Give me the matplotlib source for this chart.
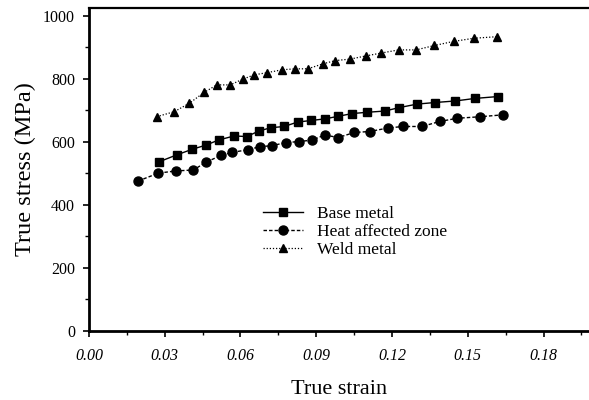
import numpy as np
import matplotlib.pyplot as plt
from matplotlib.ticker import MultipleLocator

plt.rcParams['font.family'] = ['Liberation Serif', 'DejaVu Serif']

# strain / stress readings for each zone
base_strain = [0.0278, 0.0348, 0.0410, 0.0464, 0.0513, 0.0575, 0.0625, 0.0674, 0.0720, 0.0773,
               0.0826, 0.0879, 0.0933, 0.0985, 0.1042, 0.1101, 0.1171, 0.1229, 0.1299, 0.1369,
               0.1451, 0.1528, 0.1619]
base_stress = [537, 559, 577, 590, 606, 619, 617, 635, 645, 649,
               663, 668, 673, 681, 690, 694, 698, 709, 720, 725,
               730, 738, 744]

haz_strain = [0.0195, 0.0275, 0.0345, 0.0414, 0.0464, 0.0523, 0.0568, 0.0628, 0.0678, 0.0724,
              0.0780, 0.0830, 0.0885, 0.0933, 0.0987, 0.1051, 0.1111, 0.1183, 0.1242, 0.1319,
              0.1389, 0.1458, 0.1550, 0.1639]
haz_stress = [476, 501, 508, 511, 536, 557, 567, 575, 585, 588,
              598, 601, 606, 622, 614, 630, 633, 644, 649, 649,
              665, 675, 680, 686]

weld_strain = [0.0268, 0.0338, 0.0398, 0.0456, 0.0506, 0.0559, 0.0609, 0.0655, 0.0707, 0.0765,
               0.0817, 0.0867, 0.0927, 0.0975, 0.1035, 0.1097, 0.1157, 0.1226, 0.1295, 0.1368,
               0.1444, 0.1524, 0.1617]
weld_stress = [680, 696, 723, 757, 781, 781, 799, 813, 820, 829,
               832, 832, 848, 858, 863, 873, 882, 892, 892, 906,
               919, 929, 934]

fig = plt.figure(figsize=(5.89, 4.0), dpi=100)
ax = fig.add_axes([0.151, 0.1725, 0.849, 0.8075])

ax.plot(base_strain, base_stress, color='black', lw=1.0, ls='-',
        marker='s', ms=6, label='Base metal')
ax.plot(haz_strain, haz_stress, color='black', lw=1.0, ls=(0, (2.5, 1.5)),
        marker='o', ms=6.5, label='Heat affected zone')
ax.plot(weld_strain, weld_stress, color='black', lw=0.9, ls=(0, (1, 1.5)),
        marker='^', ms=5.5, label='Weld metal')

ax.set_xlim(0, 0.198)
ax.set_ylim(0, 1025)
ax.xaxis.set_major_locator(MultipleLocator(0.03))
ax.xaxis.set_minor_locator(MultipleLocator(0.015))
ax.yaxis.set_major_locator(MultipleLocator(200))
ax.yaxis.set_minor_locator(MultipleLocator(100))
ax.set_xticks(np.arange(0, 0.19, 0.03))
ax.set_xticklabels(['%.2f' % v for v in np.arange(0, 0.19, 0.03)], fontstyle='italic')

ax.tick_params(which='major', direction='out', length=4, width=1.2, labelsize=11.5)
ax.tick_params(axis='x', which='major', pad=8)
ax.tick_params(axis='y', which='major', pad=6)
ax.tick_params(which='minor', direction='out', length=3, width=1.0)

ax.spines['right'].set_visible(False)
ax.spines['left'].set_linewidth(2.0)
ax.spines['bottom'].set_linewidth(2.0)
ax.spines['top'].set_linewidth(1.6)

ax.set_xlabel('True strain', fontsize=16, labelpad=12)
ax.set_ylabel('True stress (MPa)', fontsize=17.5, labelpad=5)

ax.legend(loc='upper left', bbox_to_anchor=(0.331, 0.413), frameon=False, fontsize=12.5,
          handlelength=2.3, handletextpad=0.8, labelspacing=0.1, borderpad=0)

fig.savefig('out.png', dpi=100)
